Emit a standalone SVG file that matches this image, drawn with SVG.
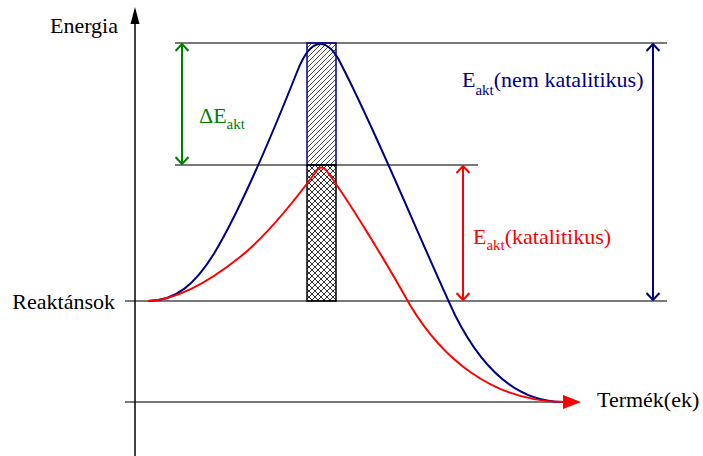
<svg xmlns="http://www.w3.org/2000/svg" width="703" height="456" viewBox="0 0 703 456">
<style>
text{font-family:'Liberation Serif','DejaVu Serif',serif;font-size:22px}
.sub{font-size:15px}
.grid{stroke:#4d4d4d;stroke-width:1.5;fill:none}
</style>
<defs>
<pattern id="diag" width="5" height="5" patternUnits="userSpaceOnUse">
<path d="M-1,6 L6,-1 M-1,1 L1,-1 M4,6 L6,4" stroke="#000" stroke-width="0.7"/>
</pattern>
<pattern id="cross" width="6" height="6" patternUnits="userSpaceOnUse">
<path d="M0,0 L6,6 M6,0 L0,6" stroke="#000" stroke-width="0.8"/>
</pattern>
<marker id="hg" viewBox="-9 -8 10 16" refX="0" refY="0" markerWidth="10" markerHeight="16" markerUnits="userSpaceOnUse" orient="auto-start-reverse">
<path d="M-7,-6.5 L0,0 L-7,6.5" fill="none" stroke="#008000" stroke-width="2"/>
</marker>
<marker id="hr" viewBox="-9 -8 10 16" refX="0" refY="0" markerWidth="10" markerHeight="16" markerUnits="userSpaceOnUse" orient="auto-start-reverse">
<path d="M-7,-6.5 L0,0 L-7,6.5" fill="none" stroke="#ff0000" stroke-width="2"/>
</marker>
<marker id="hb" viewBox="-9 -8 10 16" refX="0" refY="0" markerWidth="10" markerHeight="16" markerUnits="userSpaceOnUse" orient="auto-start-reverse">
<path d="M-7,-6.5 L0,0 L-7,6.5" fill="none" stroke="#000080" stroke-width="2"/>
</marker>
</defs>
<rect width="703" height="456" fill="#fff"/>

<g id="levels">
<line class="grid" x1="175" y1="43" x2="667" y2="43"/>
<line class="grid" x1="175" y1="165" x2="478" y2="165"/>
<line class="grid" x1="125" y1="301" x2="667" y2="301"/>
<line class="grid" x1="125" y1="402" x2="566" y2="402"/>
</g>

<g id="transition-state">
<rect x="307" y="43" width="29" height="122" fill="url(#diag)" stroke="#000080" stroke-width="1.5"/>
<rect x="307" y="165" width="29" height="136" fill="url(#cross)" stroke="#000" stroke-width="1.5"/>
</g>

<g id="axis">
<line x1="135" y1="456" x2="135" y2="22" stroke="#000" stroke-width="1.5"/>
<polygon points="135,7 130.5,24 139.5,24" fill="#000"/>
<text x="118" y="33" text-anchor="end" font-family="Liberation Serif, DejaVu Serif, serif">Energia</text>
<text x="115" y="309" text-anchor="end" font-family="Liberation Serif, DejaVu Serif, serif">Reaktánsok</text>
<text x="597" y="407" font-family="Liberation Serif, DejaVu Serif, serif">Termék(ek)</text>
</g>

<g id="connectors">
<path id="blue-curve" d="M148,301 C175,301 195,285 215,252 C240,210 272,135 297,72 C304,54 311,44 320,44 C329,44 336,53 342,66 C380,140 420,240 455,315 C480,365 515,402 563,402" fill="none" stroke="#000080" stroke-width="2"/>
<path id="red-curve" d="M148,301 C175,300 205,285 240,257 C265,237 295,200 315,173 Q320,164 326,170 C345,195 385,260 410,305 C440,355 490,402 565,402" fill="none" stroke="#ff0000" stroke-width="2"/>
<polygon points="581,402 563,395 563,409" fill="#ff0000"/>
<line x1="182" y1="44" x2="182" y2="164" stroke="#008000" stroke-width="2" marker-start="url(#hg)" marker-end="url(#hg)"/>
<line x1="463" y1="166" x2="463" y2="300" stroke="#ff0000" stroke-width="2" marker-start="url(#hr)" marker-end="url(#hr)"/>
<line x1="653" y1="44" x2="653" y2="300" stroke="#000080" stroke-width="2" marker-start="url(#hb)" marker-end="url(#hb)"/>
</g>

<g id="label-delta">
<text x="199" y="123" fill="#008000" font-family="Liberation Serif, DejaVu Serif, serif">ΔE<tspan class="sub" dy="6">akt</tspan></text>
</g>
<g id="label-nem">
<text x="462" y="87" fill="#000080" font-family="Liberation Serif, DejaVu Serif, serif">E<tspan class="sub" dy="8">akt</tspan><tspan dy="-8">(nem katalitikus)</tspan></text>
</g>
<g id="label-kat">
<text x="473" y="244" fill="#ff0000" font-family="Liberation Serif, DejaVu Serif, serif">E<tspan class="sub" dy="6">akt</tspan><tspan dy="-6">(katalitikus)</tspan></text>
</g>
</svg>
